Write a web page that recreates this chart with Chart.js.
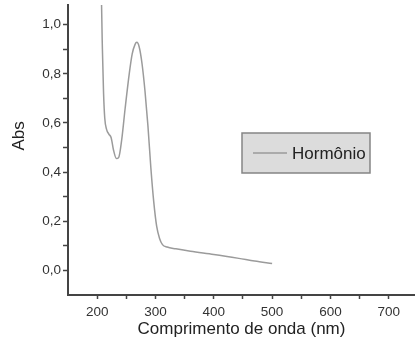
<!DOCTYPE html>
<html>
<head>
  <meta charset="UTF-8" />
  <title>Abs x Comprimento de onda</title>
  <script src="https://cdn.jsdelivr.net/npm/chart.js"></script>
  <style>
    html, body { margin: 0; padding: 0; background: #fff; }
    #wrap { width: 415px; height: 344px; }
  </style>
</head>
<body>
  <div id="wrap"><canvas id="absChart" width="415" height="344"></canvas></div>

  <script>
    // spectrum
    const seriesLabel = 'Hormônio';
    const wavelength = [205, 207, 209, 211, 213, 216, 220, 224, 228, 233, 237, 242, 248, 255, 260, 265, 268,
                        272, 277, 282, 287, 292, 297, 302, 307, 312, 320, 335, 360, 400, 443, 470, 500];
    const absorbance = [1.6, 1.15, 0.9, 0.72, 0.62, 0.575, 0.555, 0.54, 0.49, 0.455, 0.46, 0.53, 0.66, 0.8, 0.88, 0.92, 0.928,
                        0.91, 0.84, 0.73, 0.59, 0.42, 0.28, 0.18, 0.13, 0.105, 0.095, 0.088, 0.078, 0.065, 0.049, 0.038, 0.028];
    const xMajor = [200, 300, 400, 500, 600, 700];
    const yMajor = [0, 0.2, 0.4, 0.6, 0.8, 1.0];

    const lineColor = '#9b9b9b';
    const axisColor = '#444';
    const font = 'Liberation Sans, Arial, sans-serif';

    // legend is a grey box sitting inside the plot area
    const boxLegend = {
      id: 'boxLegend',
      afterDraw(chart) {
        const ctx = chart.ctx;
        const a = chart.chartArea;
        const x = a.left + 174, y = a.top + 128, w = 128, h = 40;
        ctx.save();
        ctx.fillStyle = '#dcdcdc';
        ctx.fillRect(x, y, w, h);
        ctx.strokeStyle = '#858585';
        ctx.lineWidth = 1.5;
        ctx.strokeRect(x, y, w, h);
        ctx.strokeStyle = lineColor;
        ctx.lineWidth = 1.5;
        ctx.beginPath();
        ctx.moveTo(x + 11, y + 20);
        ctx.lineTo(x + 45, y + 20);
        ctx.stroke();
        ctx.fillStyle = '#222';
        ctx.font = '17px ' + font;
        ctx.textBaseline = 'middle';
        ctx.fillText(chart.data.datasets[0].label, x + 50, y + 21);
        ctx.restore();
      }
    };

    const points = wavelength.map((w, i) => ({ x: w, y: absorbance[i] }));

    const comma = v => v.toFixed(1).replace('.', ',');
    const isMajor = (list, v) => list.some(m => Math.abs(m - v) < 1e-6);

    const chart = new Chart(document.getElementById('absChart').getContext('2d'), {
      type: 'line',
      data: {
        datasets: [{
          label: seriesLabel,
          data: points,
          borderColor: lineColor,
          borderWidth: 1.5,
          pointRadius: 0,
          fill: false,
          cubicInterpolationMode: 'monotone',
        }]
      },
      options: {
        responsive: false,
        animation: false,
        layout: { padding: { top: 5, right: 0, left: 9, bottom: 0 } },
        plugins: { legend: { display: false }, tooltip: { enabled: false } },
        scales: {
          x: {
            type: 'linear',
            min: 150,
            max: 745,
            afterBuildTicks: s => { s.ticks = s.ticks.filter(t => t.value > 150 && t.value < 745); },
            afterFit: s => { s.height = 49; s.paddingLeft = 0; s.paddingRight = 0; },
            ticks: {
              stepSize: 50,
              includeBounds: false,
              maxTicksLimit: 100,
              autoSkip: false,
              maxRotation: 0,
              color: '#333',
              font: { family: font, size: 13.5 },
              padding: 5,
              callback: v => isMajor(xMajor, v) ? String(v) : '',
            },
            grid: { drawOnChartArea: false, tickLength: 4, tickColor: axisColor, tickWidth: 1.5 },
            border: { color: axisColor, width: 2 },
            title: {
              display: true,
              text: 'Comprimento de onda (nm)',
              color: '#222',
              font: { family: font, size: 17 },
              padding: { top: 0, bottom: 4 },
            },
          },
          y: {
            min: -0.1,
            max: 1.08,
            afterBuildTicks: s => { s.ticks = s.ticks.filter(t => t.value > -0.05 && t.value < 1.05); },
            afterFit: s => { s.width = 59; s.paddingTop = 0; s.paddingBottom = 0; },
            ticks: {
              stepSize: 0.1,
              includeBounds: false,
              maxTicksLimit: 100,
              autoSkip: false,
              color: '#333',
              font: { family: font, size: 13.5 },
              padding: 2,
              callback: v => isMajor(yMajor, v) ? comma(v) : '',
            },
            grid: { drawOnChartArea: false, tickLength: 5, tickColor: axisColor, tickWidth: 1.5 },
            border: { color: axisColor, width: 2 },
            title: {
              display: true,
              // leading blanks nudge the rotated title up, as in the original
              text: '\u00a0\u00a0\u00a0\u00a0\u00a0\u00a0Abs',
              color: '#222',
              font: { family: font, size: 17 },
              padding: { top: 0, bottom: 0 },
            },
          }
        }
      },
      plugins: [boxLegend]
    });
  </script>
</body>
</html>
